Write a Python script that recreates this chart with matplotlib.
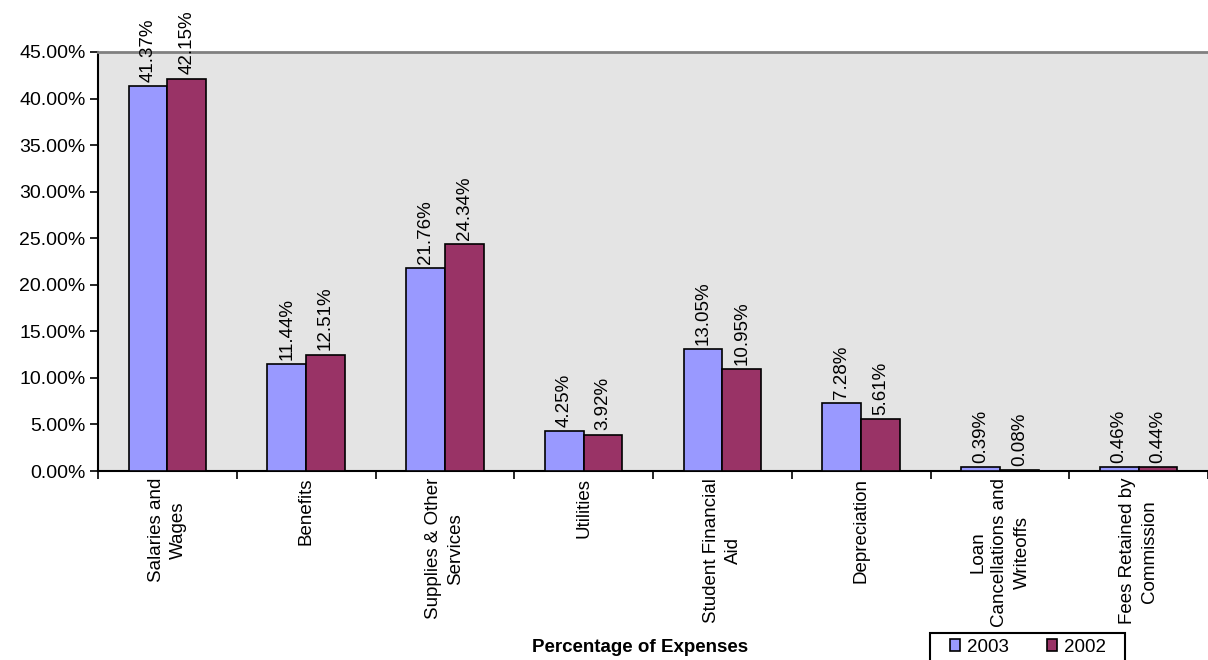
"""Percentage of expenses, 2003 vs 2002 — grouped bar chart."""
import matplotlib
matplotlib.use("Agg")
import matplotlib.pyplot as plt
import numpy as np
from matplotlib.patches import Rectangle
from matplotlib.ticker import FuncFormatter

categories = [
    "Salaries and\nWages",
    "Benefits",
    "Supplies & Other\nServices",
    "Utilities",
    "Student Financial\nAid",
    "Depreciation",
    "Loan\nCancellations and\nWriteoffs",
    "Fees Retained by\nCommission",
]
pct_2003 = [41.37, 11.44, 21.76, 4.25, 13.05, 7.28, 0.39, 0.46]
pct_2002 = [42.15, 12.51, 24.34, 3.92, 10.95, 5.61, 0.08, 0.44]
series_labels = ["2003", "2002"]
y_ticks = [0, 5, 10, 15, 20, 25, 30, 35, 40, 45]

FS = 13.5
W, H = 1208, 660


def main():
    plt.rcParams["font.family"] = ["Liberation Sans", "DejaVu Sans"]
    fig = plt.figure(figsize=(W / 100, H / 100), dpi=100)
    ax = fig.add_axes([98 / W, 1 - 471 / H, 1 - 98 / W, (471 - 52) / H])
    ax.set_facecolor("#e4e4e4")

    x = np.arange(len(categories))
    w = 0.28
    b1 = ax.bar(x - w / 2, pct_2003, w, color="#9999FF", edgecolor="black",
                linewidth=1.2, label=series_labels[0], zorder=3)
    b2 = ax.bar(x + w / 2, pct_2002, w, color="#993366", edgecolor="black",
                linewidth=1.2, label=series_labels[1], zorder=3)

    for bars, vals in ((b1, pct_2003), (b2, pct_2002)):
        for rect, v in zip(bars, vals):
            ax.annotate(f"{v:.2f}%", (rect.get_x() + rect.get_width() / 2, rect.get_height()),
                        xytext=(0, 3), textcoords="offset points", rotation=90,
                        ha="center", va="bottom", fontsize=FS, clip_on=False)

    ax.set_xlim(-0.5, len(categories) - 0.5)
    ax.set_ylim(0, 45)
    ax.set_yticks(y_ticks)
    ax.yaxis.set_major_formatter(FuncFormatter(lambda v, _: f"{v:.2f}%"))
    ax.tick_params(axis="y", labelsize=14, length=6, width=1.2, direction="out", pad=3)

    # ticks at group boundaries, labels at group centers
    ax.set_xticks(np.arange(-0.5, len(categories) + 0.5, 1.0))
    ax.set_xticklabels([])
    ax.tick_params(axis="x", length=6, width=1.2, direction="out")
    ax.set_xticks(x, minor=True)
    ax.set_xticklabels(categories, minor=True, rotation=90, fontsize=FS,
                       ha="center", va="top", linespacing=1.4)
    ax.tick_params(axis="x", which="minor", length=0, pad=5)

    ax.spines["left"].set_linewidth(1.5)
    ax.spines["bottom"].set_linewidth(1.5)
    ax.spines["top"].set_color("#808080")
    ax.spines["top"].set_linewidth(2)
    ax.spines["right"].set_visible(False)

    fig.text(640 / W, 1 - 647 / H, "Percentage of Expenses", ha="center",
             va="center", fontsize=FS, fontweight="bold")

    # legend box (runs off the bottom edge like the original)
    fig.patches.append(Rectangle((930 / W, -0.02), (1125 - 930) / W, 0.02 + (660 - 633) / H,
                                 transform=fig.transFigure, facecolor="white",
                                 edgecolor="black", linewidth=1.5))
    fig.legend(handles=[b1, b2], labels=series_labels, loc="center left",
               bbox_to_anchor=(950 / W, 1 - 647 / H), ncol=2, fontsize=FS,
               frameon=False, handlelength=0.55, handleheight=0.55,
               handletextpad=0.37, columnspacing=2.0, borderpad=0, borderaxespad=0)

    fig.savefig("out.png", dpi=100)


if __name__ == "__main__":
    main()
